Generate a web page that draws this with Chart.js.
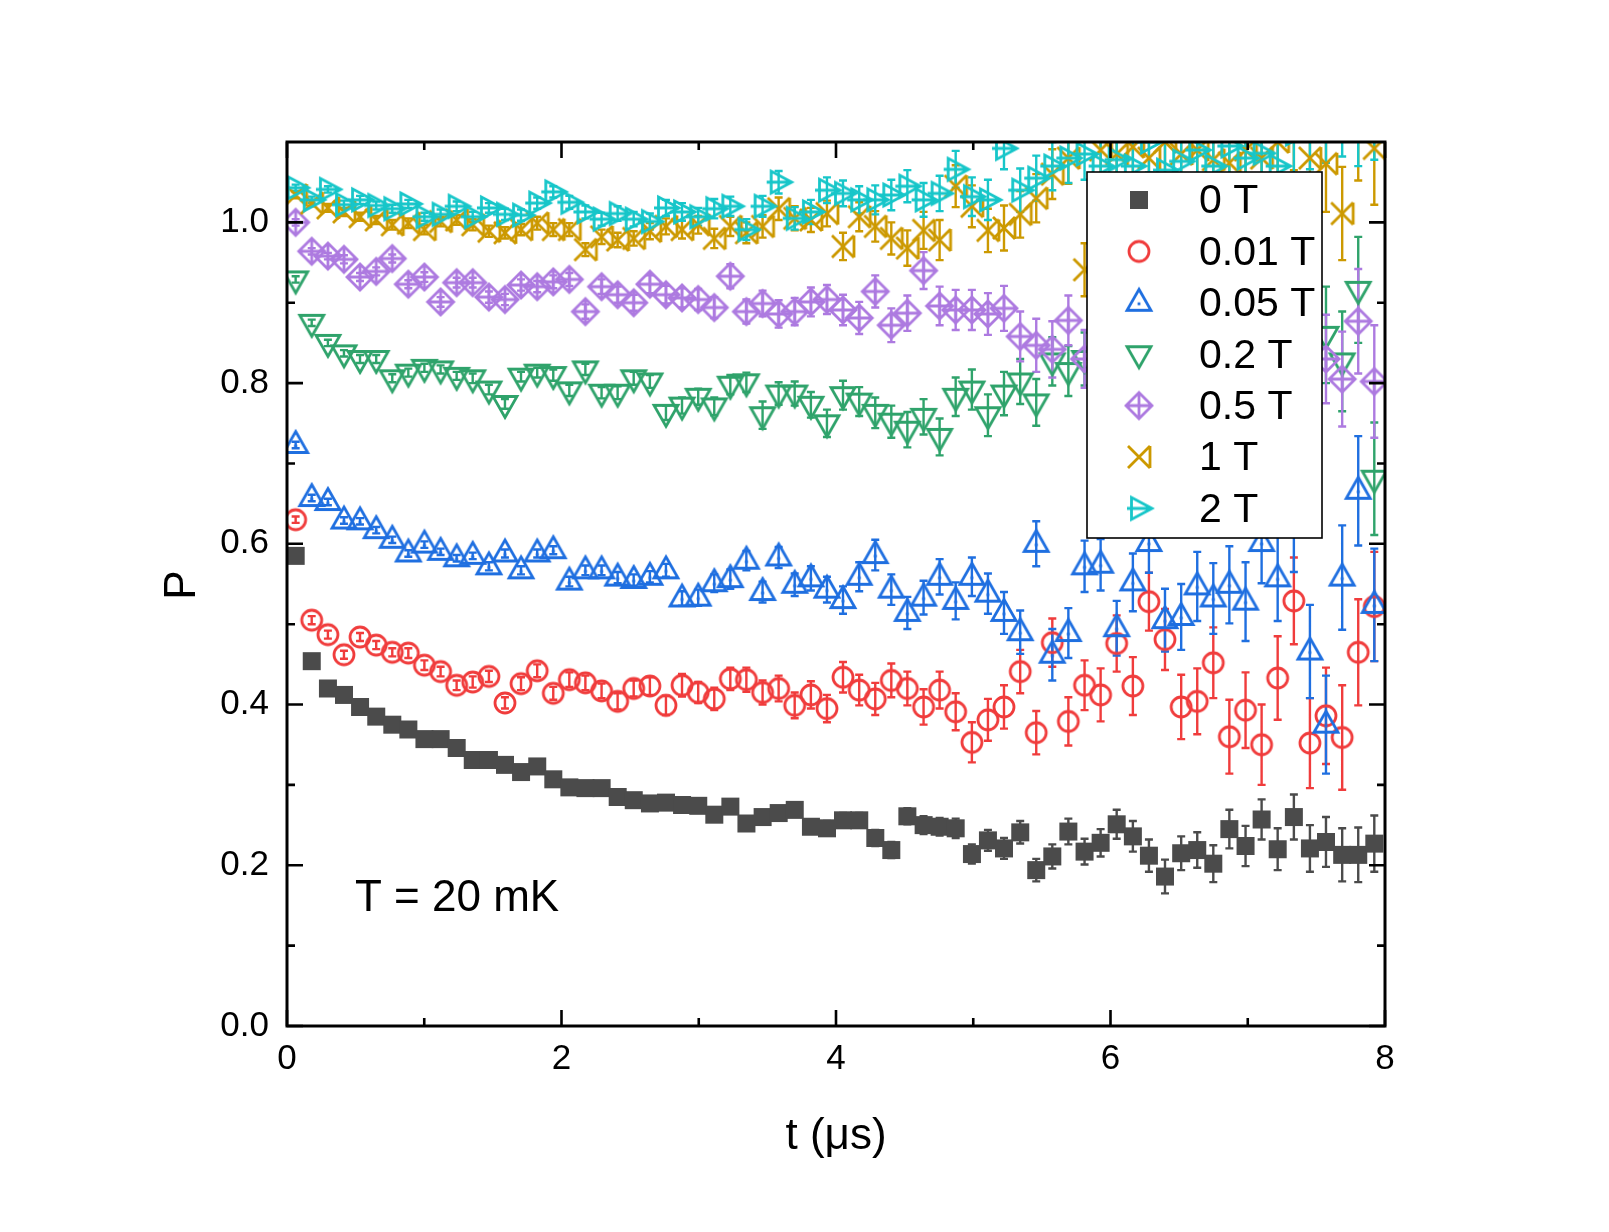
<!DOCTYPE html>
<html>
<head>
<meta charset="utf-8">
<title>P vs t</title>
<script src="https://cdn.jsdelivr.net/npm/chart.js@4.4.1/dist/chart.umd.min.js"></script>
<style>
	html, body { margin: 0; padding: 0; background: #fff; }
	#box { width: 1609px; height: 1232px; }
</style>
</head>
<body>
<div id="box"><canvas id="chart" width="1609" height="1232"></canvas></div>
<script>
	// time bins (us)
	const times = [
		0.063, 0.180, 0.298, 0.415, 0.532, 0.650, 0.767, 0.884, 1.001, 1.119,
		1.236, 1.353, 1.471, 1.588, 1.705, 1.823, 1.940, 2.057, 2.174, 2.292,
		2.409, 2.526, 2.644, 2.761, 2.878, 2.996, 3.113, 3.230, 3.347, 3.465,
		3.582, 3.699, 3.817, 3.934, 4.051, 4.169, 4.286, 4.403, 4.520, 4.638,
		4.755, 4.872, 4.990, 5.107, 5.224, 5.342, 5.459, 5.576, 5.693, 5.811,
		5.928, 6.045, 6.163, 6.280, 6.397, 6.515, 6.632, 6.749, 6.866, 6.984,
		7.101, 7.218, 7.336, 7.453, 7.570, 7.688, 7.805, 7.922
	]

	const fieldLabels = ['0 T', '0.01 T', '0.05 T', '0.2 T', '0.5 T', '1 T', '2 T']
	const xTicks = [0, 2, 4, 6, 8]
	const yTicks = [0, 0.2, 0.4, 0.6, 0.8, 1.0]

	const p0T = [
		0.585, 0.454, 0.420, 0.412, 0.397, 0.385, 0.375, 0.369, 0.357, 0.357,
		0.346, 0.331, 0.331, 0.325, 0.316, 0.323, 0.307, 0.297, 0.296, 0.296,
		0.285, 0.281, 0.277, 0.278, 0.275, 0.274, 0.263, 0.273, 0.252, 0.260,
		0.265, 0.269, 0.248, 0.246, 0.256, 0.256, 0.234, 0.219, 0.261, 0.250,
		0.248, 0.246, 0.214, 0.231, 0.221, 0.241, 0.194, 0.211, 0.242, 0.217,
		0.228, 0.251, 0.236, 0.212, 0.186, 0.215, 0.219, 0.202, 0.245, 0.224,
		0.257, 0.220, 0.260, 0.221, 0.229, 0.213, 0.213, 0.227
	]
	const e0T = [
		0.003, 0.003, 0.003, 0.003, 0.003, 0.003, 0.003, 0.003, 0.003, 0.003,
		0.004, 0.004, 0.004, 0.004, 0.004, 0.004, 0.005, 0.005, 0.005, 0.005,
		0.005, 0.006, 0.006, 0.006, 0.006, 0.006, 0.007, 0.007, 0.007, 0.007,
		0.008, 0.008, 0.008, 0.009, 0.009, 0.009, 0.010, 0.010, 0.010, 0.011,
		0.011, 0.012, 0.012, 0.013, 0.013, 0.014, 0.014, 0.015, 0.016, 0.016,
		0.017, 0.018, 0.019, 0.020, 0.021, 0.021, 0.022, 0.023, 0.024, 0.025,
		0.025, 0.026, 0.028, 0.029, 0.031, 0.033, 0.034, 0.035
	]

	const p001T = [
		0.630, 0.505, 0.487, 0.462, 0.484, 0.474, 0.465, 0.464, 0.449, 0.441,
		0.424, 0.428, 0.435, 0.402, 0.426, 0.442, 0.414, 0.431, 0.427, 0.417,
		0.404, 0.420, 0.423, 0.399, 0.424, 0.415, 0.407, 0.432, 0.431, 0.415,
		0.420, 0.399, 0.412, 0.395, 0.434, 0.418, 0.407, 0.430, 0.420, 0.397,
		0.418, 0.391, 0.353, 0.381, 0.397, 0.441, 0.365, 0.477, 0.379, 0.424,
		0.412, 0.476, 0.423, 0.528, 0.481, 0.397, 0.404, 0.452, 0.360, 0.393,
		0.350, 0.433, 0.529, 0.352, 0.386, 0.359, 0.465, 0.522
	]
	const e001T = [
		0.004, 0.005, 0.005, 0.005, 0.005, 0.005, 0.005, 0.006, 0.006, 0.006,
		0.006, 0.007, 0.007, 0.007, 0.008, 0.008, 0.008, 0.009, 0.009, 0.009,
		0.010, 0.010, 0.011, 0.012, 0.014, 0.013, 0.014, 0.014, 0.015, 0.015,
		0.016, 0.016, 0.017, 0.017, 0.019, 0.019, 0.020, 0.021, 0.021, 0.022,
		0.023, 0.023, 0.025, 0.026, 0.027, 0.027, 0.027, 0.030, 0.030, 0.031,
		0.033, 0.035, 0.036, 0.036, 0.038, 0.040, 0.041, 0.044, 0.046, 0.047,
		0.050, 0.052, 0.054, 0.056, 0.060, 0.065, 0.066, 0.068
	]

	const p005T = [
		0.723, 0.657, 0.652, 0.629, 0.628, 0.617, 0.605, 0.588, 0.599, 0.590,
		0.582, 0.585, 0.572, 0.588, 0.567, 0.588, 0.592, 0.553, 0.567, 0.567,
		0.558, 0.555, 0.559, 0.567, 0.532, 0.533, 0.551, 0.556, 0.579, 0.540,
		0.583, 0.549, 0.557, 0.543, 0.530, 0.559, 0.586, 0.543, 0.514, 0.533,
		0.559, 0.529, 0.559, 0.538, 0.514, 0.490, 0.600, 0.462, 0.489, 0.572,
		0.574, 0.495, 0.552, 0.601, 0.505, 0.509, 0.547, 0.532, 0.549, 0.528,
		0.601, 0.557, 0.620, 0.466, 0.375, 0.558, 0.666, 0.524
	]
	const e005T = [
		0.004, 0.004, 0.004, 0.004, 0.004, 0.004, 0.004, 0.004, 0.004, 0.004,
		0.004, 0.004, 0.005, 0.005, 0.005, 0.005, 0.005, 0.006, 0.006, 0.006,
		0.007, 0.007, 0.007, 0.008, 0.009, 0.010, 0.011, 0.012, 0.012, 0.013,
		0.013, 0.014, 0.015, 0.016, 0.017, 0.018, 0.019, 0.019, 0.020, 0.021,
		0.022, 0.023, 0.024, 0.025, 0.026, 0.027, 0.028, 0.032, 0.031, 0.032,
		0.032, 0.034, 0.036, 0.037, 0.039, 0.041, 0.043, 0.044, 0.048, 0.049,
		0.050, 0.053, 0.055, 0.058, 0.061, 0.065, 0.068, 0.070
	]

	// null = hidden behind the legend box in the original
	const p02T = [
		0.929, 0.875, 0.850, 0.837, 0.830, 0.830, 0.806, 0.813, 0.819, 0.817,
		0.809, 0.806, 0.792, 0.774, 0.808, 0.813, 0.810, 0.791, 0.817, 0.788,
		0.788, 0.806, 0.802, 0.763, 0.772, 0.783, 0.771, 0.798, 0.801, 0.760,
		0.787, 0.787, 0.773, 0.750, 0.785, 0.777, 0.763, 0.752, 0.742, 0.758,
		0.733, 0.783, 0.792, 0.760, 0.787, 0.802, 0.776, 0.827, 0.815, 0.830,
		null, null, null, null, null, null, null, null, null, null,
		null, null, null, null, 0.860, 0.827, 0.916, 0.681
	]
	const e02T = [
		0.004, 0.004, 0.004, 0.004, 0.005, 0.005, 0.005, 0.005, 0.005, 0.005,
		0.005, 0.006, 0.006, 0.006, 0.006, 0.006, 0.007, 0.007, 0.007, 0.007,
		0.008, 0.008, 0.008, 0.009, 0.010, 0.010, 0.011, 0.012, 0.012, 0.017,
		0.014, 0.015, 0.016, 0.017, 0.018, 0.018, 0.019, 0.020, 0.022, 0.022,
		0.023, 0.024, 0.025, 0.026, 0.027, 0.028, 0.029, 0.030, 0.031, 0.033,
		0.035, 0.036, 0.038, 0.040, 0.041, 0.043, 0.045, 0.047, 0.049, 0.050,
		0.052, 0.054, 0.056, 0.058, 0.060, 0.062, 0.066, 0.070
	]

	const p05T = [
		1.000, 0.964, 0.958, 0.954, 0.932, 0.939, 0.955, 0.923, 0.932, 0.901,
		0.925, 0.925, 0.907, 0.904, 0.922, 0.920, 0.926, 0.929, 0.889, 0.920,
		0.910, 0.900, 0.923, 0.910, 0.906, 0.904, 0.894, 0.933, 0.889, 0.899,
		0.886, 0.889, 0.901, 0.904, 0.891, 0.881, 0.914, 0.872, 0.887, 0.940,
		0.896, 0.891, 0.891, 0.886, 0.893, 0.858, 0.847, 0.842, 0.878, 0.830,
		null, null, null, null, null, null, null, null, null, null,
		null, null, null, null, 0.830, 0.805, 0.877, 0.802
	]
	const e05T = [
		0.004, 0.004, 0.004, 0.005, 0.005, 0.005, 0.005, 0.005, 0.006, 0.006,
		0.006, 0.006, 0.007, 0.007, 0.007, 0.007, 0.008, 0.008, 0.009, 0.009,
		0.010, 0.010, 0.011, 0.011, 0.012, 0.013, 0.013, 0.015, 0.015, 0.016,
		0.017, 0.017, 0.018, 0.018, 0.019, 0.020, 0.020, 0.021, 0.022, 0.023,
		0.024, 0.025, 0.025, 0.026, 0.028, 0.031, 0.033, 0.035, 0.031, 0.036,
		0.037, 0.038, 0.040, 0.041, 0.042, 0.044, 0.045, 0.046, 0.048, 0.049,
		0.050, 0.051, 0.052, 0.053, 0.055, 0.059, 0.065, 0.070
	]

	const p1T = [
		1.034, 1.024, 1.018, 1.013, 1.007, 1.003, 0.997, 0.999, 0.991, 1.001,
		1.003, 0.997, 0.989, 0.987, 0.991, 0.999, 0.991, 0.991, 0.966, 0.982,
		0.978, 0.980, 0.989, 0.995, 0.991, 0.997, 0.980, 0.995, 0.987, 0.995,
		1.017, 1.005, 1.003, 1.011, 0.970, 1.007, 0.995, 0.980, 0.968, 0.990,
		0.978, 1.045, 1.020, 0.990, 0.993, 1.010, 1.030, 1.060, 1.080, 0.941,
		1.090, 1.085, 1.094, 1.080, 1.100, 1.085, 1.090, 1.078, 1.074, 1.090,
		1.080, 1.100, 1.120, 1.080, 1.073, 1.011, 1.120, 1.092
	]
	const e1T = [
		0.004, 0.004, 0.005, 0.005, 0.005, 0.005, 0.006, 0.006, 0.006, 0.006,
		0.006, 0.007, 0.007, 0.007, 0.007, 0.008, 0.008, 0.008, 0.008, 0.009,
		0.009, 0.009, 0.010, 0.010, 0.011, 0.011, 0.012, 0.012, 0.013, 0.014,
		0.014, 0.015, 0.015, 0.016, 0.017, 0.018, 0.019, 0.020, 0.022, 0.023,
		0.025, 0.026, 0.026, 0.027, 0.028, 0.029, 0.030, 0.031, 0.032, 0.033,
		0.035, 0.036, 0.037, 0.039, 0.040, 0.042, 0.044, 0.045, 0.047, 0.049,
		0.051, 0.053, 0.055, 0.057, 0.060, 0.058, 0.068, 0.070
	]

	const p2T = [
		1.043, 1.028, 1.041, 1.022, 1.028, 1.021, 1.017, 1.023, 1.007, 1.010,
		1.020, 1.007, 1.018, 1.010, 1.009, 1.024, 1.038, 1.025, 1.013, 1.004,
		1.011, 1.004, 1.001, 1.018, 1.013, 1.007, 1.017, 1.020, 0.991, 1.020,
		1.050, 1.005, 1.013, 1.040, 1.036, 1.028, 1.028, 1.034, 1.045, 1.028,
		1.036, 1.066, 1.032, 1.028, 1.092, 1.040, 1.055, 1.070, 1.080, 1.085,
		1.070, 1.078, 1.070, 1.100, 1.065, 1.076, 1.090, 1.070, 1.095, 1.080,
		1.086, 1.070, 1.110, 1.120, 1.130, 1.140, 1.130, 1.140
	]
	const e2T = [
		0.004, 0.004, 0.004, 0.005, 0.005, 0.005, 0.005, 0.005, 0.005, 0.006,
		0.006, 0.006, 0.006, 0.007, 0.007, 0.007, 0.007, 0.008, 0.008, 0.008,
		0.009, 0.009, 0.010, 0.010, 0.011, 0.011, 0.012, 0.012, 0.013, 0.013,
		0.014, 0.014, 0.015, 0.016, 0.016, 0.017, 0.018, 0.019, 0.020, 0.021,
		0.022, 0.023, 0.024, 0.025, 0.026, 0.027, 0.028, 0.030, 0.031, 0.032,
		0.034, 0.035, 0.036, 0.038, 0.039, 0.041, 0.042, 0.044, 0.045, 0.047,
		0.048, 0.050, 0.052, 0.054, 0.056, 0.058, 0.060, 0.062
	]

	const fontFamily = "'Liberation Sans', Arial, Helvetica, sans-serif"

	class MarkerUtil{
		static make(kind, color){
			const size = 38, c = size / 2
			const cv = document.createElement('canvas')
			cv.width = size
			cv.height = size
			const g = cv.getContext('2d')
			g.strokeStyle = color
			g.fillStyle = color
			g.lineWidth = 2.8
			g.beginPath()
			switch(kind){
				case 'square':
					g.fillRect(c - 9, c - 9, 18, 18)
					break
				case 'circle':
					g.arc(c, c, 10, 0, Math.PI * 2)
					g.stroke()
					break
				case 'up':
					g.moveTo(c, c - 13.5); g.lineTo(c + 12, c + 7.5); g.lineTo(c - 12, c + 7.5); g.closePath()
					g.stroke()
					g.fillRect(c - 1.4, c - 0.4, 2.8, 2.8)
					break
				case 'down':
					g.moveTo(c, c + 13.5); g.lineTo(c + 12, c - 7.5); g.lineTo(c - 12, c - 7.5); g.closePath()
					g.stroke()
					break
				case 'diamond':
					g.moveTo(c, c - 13); g.lineTo(c + 13, c); g.lineTo(c, c + 13); g.lineTo(c - 13, c); g.closePath()
					g.moveTo(c, c - 13); g.lineTo(c, c + 13)
					g.moveTo(c - 13, c); g.lineTo(c + 13, c)
					g.stroke()
					break
				case 'xbar':
					g.moveTo(c - 11, c - 11); g.lineTo(c + 11, c + 11)
					g.moveTo(c - 11, c + 11); g.lineTo(c + 11, c - 11)
					g.moveTo(c + 11, c - 11); g.lineTo(c + 11, c + 11)
					g.stroke()
					break
				case 'right':
					g.moveTo(c + 13, c); g.lineTo(c - 7.5, c - 11); g.lineTo(c - 7.5, c + 11); g.closePath()
					g.moveTo(c - 12, c); g.lineTo(c + 13, c)
					g.stroke()
					break
			}
			return cv
		}
	}

	const series = [
		{ label: fieldLabels[0], values: p0T,   errors: e0T,   color: '#4b4b4b', kind: 'square' },
		{ label: fieldLabels[1], values: p001T, errors: e001T, color: '#f03c3c', kind: 'circle' },
		{ label: fieldLabels[2], values: p005T, errors: e005T, color: '#1f6fe0', kind: 'up' },
		{ label: fieldLabels[3], values: p02T,  errors: e02T,  color: '#2fa36b', kind: 'down' },
		{ label: fieldLabels[4], values: p05T,  errors: e05T,  color: '#ad7ae0', kind: 'diamond' },
		{ label: fieldLabels[5], values: p1T,   errors: e1T,   color: '#cc9900', kind: 'xbar' },
		{ label: fieldLabels[6], values: p2T,   errors: e2T,   color: '#17c6c9', kind: 'right' }
	]

	const datasets = series.map((s, k) => ({
		label: s.label,
		data: times.map((t, i) => ({ x: t, y: s.values[i] })),
		errors: s.errors,
		color: s.color,
		marker: MarkerUtil.make(s.kind, s.color),
		pointStyle: MarkerUtil.make(s.kind, s.color),
		pointRadius: 11,
		pointHoverRadius: 11,
		showLine: false,
		clip: 0,
		order: series.length - k
	}))

	// vertical error bars, drawn with the chart scales
	const errorBarPlugin = {
		id: 'errorBars',
		beforeDatasetsDraw(chart){
			const { ctx, chartArea: a } = chart
			const xs = chart.scales.x, ys = chart.scales.y
			ctx.save()
			ctx.beginPath()
			ctx.rect(a.left, a.top, a.right - a.left, a.bottom - a.top)
			ctx.clip()
			ctx.lineWidth = 2.4
			chart.data.datasets.forEach(ds => {
				ctx.strokeStyle = ds.color
				ctx.beginPath()
				ds.data.forEach((pt, i) => {
					if(pt.y === null) return
					const e = ds.errors[i]
					const px = xs.getPixelForValue(pt.x)
					const top = ys.getPixelForValue(pt.y + e)
					const bot = ys.getPixelForValue(pt.y - e)
					ctx.moveTo(px, top); ctx.lineTo(px, bot)
					ctx.moveTo(px - 4, top); ctx.lineTo(px + 4, top)
					ctx.moveTo(px - 4, bot); ctx.lineTo(px + 4, bot)
				})
				ctx.stroke()
			})
			ctx.restore()
		}
	}

	// closed frame with inward ticks on all four sides
	const framePlugin = {
		id: 'frame',
		afterDatasetsDraw(chart){
			const { ctx, chartArea: a } = chart
			const xs = chart.scales.x, ys = chart.scales.y
			const major = 16, minor = 8
			ctx.save()
			ctx.strokeStyle = '#000'
			ctx.lineWidth = 2.6
			ctx.beginPath()
			xTicks.forEach((v, i) => {
				const px = xs.getPixelForValue(v)
				ctx.moveTo(px, a.bottom); ctx.lineTo(px, a.bottom - major)
				ctx.moveTo(px, a.top); ctx.lineTo(px, a.top + major)
				if(i < xTicks.length - 1){
					const m = xs.getPixelForValue((v + xTicks[i + 1]) / 2)
					ctx.moveTo(m, a.bottom); ctx.lineTo(m, a.bottom - minor)
					ctx.moveTo(m, a.top); ctx.lineTo(m, a.top + minor)
				}
			})
			yTicks.forEach((v, i) => {
				const py = ys.getPixelForValue(v)
				ctx.moveTo(a.left, py); ctx.lineTo(a.left + major, py)
				ctx.moveTo(a.right, py); ctx.lineTo(a.right - major, py)
				if(i < yTicks.length - 1){
					const m = ys.getPixelForValue((v + yTicks[i + 1]) / 2)
					ctx.moveTo(a.left, m); ctx.lineTo(a.left + minor, m)
					ctx.moveTo(a.right, m); ctx.lineTo(a.right - minor, m)
				}
			})
			ctx.stroke()
			ctx.lineWidth = 3
			ctx.strokeRect(a.left, a.top, a.right - a.left, a.bottom - a.top)
			ctx.restore()
		}
	}

	// legend box, axis titles and the temperature note
	const textPlugin = {
		id: 'texts',
		afterDraw(chart){
			const { ctx, chartArea: a } = chart
			ctx.save()
			ctx.fillStyle = '#000'

			ctx.font = '44px ' + fontFamily
			ctx.textAlign = 'center'
			ctx.textBaseline = 'alphabetic'
			ctx.fillText('t (μs)', (a.left + a.right) / 2, 1149)

			ctx.save()
			ctx.translate(183, (a.top + a.bottom) / 2 + 1)
			ctx.rotate(-Math.PI / 2)
			ctx.textBaseline = 'middle'
			ctx.fillText('P', 0, 0)
			ctx.restore()

			ctx.textAlign = 'left'
			ctx.fillText('T = 20 mK', 355, 911)

			// legend
			const bx = a.right - 298, by = a.top + 30, bw = 235, bh = 366
			ctx.fillStyle = '#fff'
			ctx.fillRect(bx, by, bw, bh)
			ctx.strokeStyle = '#000'
			ctx.lineWidth = 1.6
			ctx.strokeRect(bx, by, bw, bh)
			ctx.font = '41px ' + fontFamily
			ctx.textBaseline = 'middle'
			ctx.fillStyle = '#000'
			chart.data.datasets.forEach((ds, k) => {
				const cy = by + 28 + k * 51.4
				ctx.drawImage(ds.marker, bx + 52 - ds.marker.width / 2, cy - ds.marker.height / 2)
				ctx.fillText(ds.label, bx + 112, cy + 2)
			})
			ctx.restore()
		}
	}

	new Chart(document.getElementById('chart'), {
		type: 'scatter',
		data: { datasets: datasets },
		options: {
			responsive: false,
			animation: false,
			devicePixelRatio: 1,
			layout: { padding: { left: 0, top: 142, right: 224, bottom: 0 } },
			plugins: { legend: { display: false }, tooltip: { enabled: false } },
			scales: {
				x: {
					type: 'linear',
					min: 0,
					max: 8,
					grid: { display: false, drawTicks: false },
					border: { display: false },
					afterFit: s => { s.height = 206 },
					afterBuildTicks: s => { s.ticks = xTicks.map(v => ({ value: v })) },
					ticks: {
						padding: 12,
						color: '#000',
						maxRotation: 0,
						autoSkip: false,
						font: { family: fontFamily, size: 35 },
						callback: v => String(v)
					}
				},
				y: {
					type: 'linear',
					min: 0,
					max: 1.1,
					grid: { display: false, drawTicks: false },
					border: { display: false },
					afterFit: s => { s.width = 287 },
					afterBuildTicks: s => { s.ticks = yTicks.map(v => ({ value: v })) },
					ticks: {
						padding: 18,
						color: '#000',
						autoSkip: false,
						font: { family: fontFamily, size: 35 },
						callback: v => v.toFixed(1)
					}
				}
			}
		},
		plugins: [errorBarPlugin, framePlugin, textPlugin]
	})
</script>
</body>
</html>
